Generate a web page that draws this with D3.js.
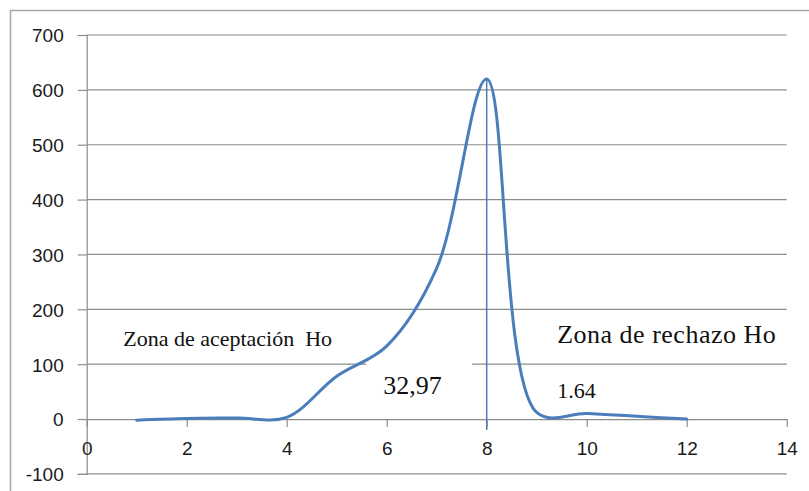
<!DOCTYPE html>
<html>
<head>
<meta charset="utf-8">
<script src="https://cdn.jsdelivr.net/npm/d3@7"></script>
<style>
  body { margin: 0; background: #fff; }
  svg { display: block; }
  .tick-label { font-family: "Liberation Sans", Arial, sans-serif; font-size: 19px; fill: #1a1a1a; }
  .note { font-family: "Liberation Serif", "Times New Roman", serif; fill: #111; white-space: pre; }
</style>
</head>
<body>
<div id="chart"></div>
<script>
var width = 809,
    height = 491;

// data
var xValues = [1, 2, 3, 4, 5, 6, 7, 8, 9, 10, 11, 12];
var yValues = [-2, 1, 2, 3, 78, 133, 275, 620, 12, 10, 5, 0];
var xTickValues = [0, 2, 4, 6, 8, 10, 12, 14];
var yTickValues = [-100, 0, 100, 200, 300, 400, 500, 600, 700];
var markerX = 8;
var noteTexts = ["Zona de aceptación  Ho", "32,97", "Zona de rechazo Ho", "1.64"];

var svg = d3.select("#chart").append("svg")
    .attr("width", width)
    .attr("height", height);

// outer frame (runs off the right / bottom edge like the screenshot)
svg.append("rect")
    .attr("x", 10.5).attr("y", 10.5)
    .attr("width", width).attr("height", height)
    .style("fill", "none")
    .style("stroke", "#a6a6a6")
    .style("stroke-width", 1.5);

var x = d3.scaleLinear().domain([0, 14]).range([86.7, 786.7]);
var y = d3.scaleLinear().domain([-100, 700]).range([473.9, 35]);

//----------GRID---------//
svg.selectAll(".grid")
    .data(yTickValues.filter(function(d) { return d !== 0; }))
    .enter()
    .append("line")
    .attr("class", "grid")
    .attr("x1", x(0)).attr("x2", x(14))
    .attr("y1", function(d) { return y(d); })
    .attr("y2", function(d) { return y(d); })
    .style("stroke", "#8c8c8c")
    .style("stroke-width", 1.2);

//----------Y AXIS---------//
var yAxis = svg.append("g")
    .attr("transform", "translate(" + x(0) + ",0)")
    .call(d3.axisLeft(y).tickValues(yTickValues).tickSize(9).tickPadding(14)
        .tickFormat(function(d) { return String(d); }));
yAxis.select(".domain").style("stroke", "#8c8c8c").style("stroke-width", 1.2);
yAxis.selectAll(".tick line").style("stroke", "#8c8c8c").style("stroke-width", 1.2);
yAxis.selectAll("text")
    .attr("class", "tick-label")
    .attr("dy", "0.36em")
    .style("font-size", null).style("font-family", null);

//----------X AXIS---------//
var xAxis = svg.append("g")
    .attr("transform", "translate(0," + y(0) + ")")
    .call(d3.axisBottom(x).tickValues(xTickValues).tickSize(8).tickPadding(14).tickSizeOuter(0)
        .tickFormat(function(d) { return String(d); }));
xAxis.select(".domain").style("stroke", "#8c8c8c").style("stroke-width", 1.2);
xAxis.selectAll(".tick line").style("stroke", "#8c8c8c").style("stroke-width", 1.2);
xAxis.selectAll("text")
    .attr("class", "tick-label")
    .style("font-size", null).style("font-family", null);

//----------NOTE BOX (covers the 100 gridline)---------//
svg.append("rect")
    .attr("x", x(5.59)).attr("y", y(115))
    .attr("width", x(7.71) - x(5.59))
    .attr("height", y(25) - y(115))
    .style("fill", "#fff");

//----------CURVE---------//
var line = d3.line()
    .x(function(d, i) { return x(xValues[i]); })
    .y(function(d) { return y(d); })
    .curve(d3.curveCatmullRom.alpha(0.5));

svg.append("path")
    .datum(yValues)
    .attr("d", line)
    .style("fill", "none")
    .style("stroke", "#4a7ebb")
    .style("stroke-width", 3)
    .style("stroke-linecap", "round");

// vertical marker at x = 8
svg.append("line")
    .attr("x1", x(markerX)).attr("x2", x(markerX))
    .attr("y1", y(d3.max(yValues))).attr("y2", y(-20))
    .style("stroke", "#4a7ebb")
    .style("stroke-width", 1.5);

//----------NOTES---------//
svg.append("text").attr("class", "note")
    .attr("x", x(0.73)).attr("y", y(133))
    .style("font-size", "22px")
    .text(noteTexts[0]);
svg.append("text").attr("class", "note")
    .attr("x", x(5.93)).attr("y", y(45))
    .style("font-size", "26px")
    .text(noteTexts[1]);
svg.append("text").attr("class", "note")
    .attr("x", x(9.41)).attr("y", y(138))
    .style("font-size", "26px")
    .style("letter-spacing", "0.5px")
    .text(noteTexts[2]);
svg.append("text").attr("class", "note")
    .attr("x", x(9.41)).attr("y", y(38))
    .style("font-size", "22px")
    .text(noteTexts[3]);
</script>
</body>
</html>
